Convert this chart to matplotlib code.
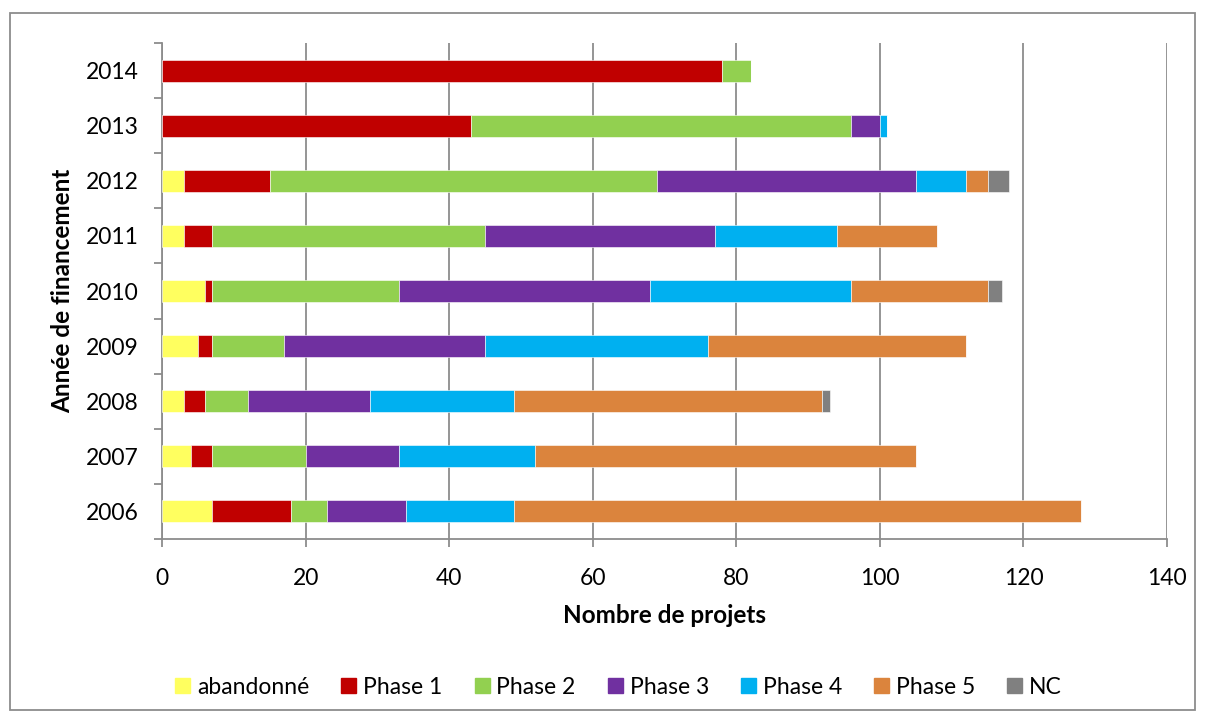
import matplotlib
matplotlib.use("Agg")
import matplotlib.pyplot as plt
from matplotlib.lines import Line2D
from matplotlib.patches import Rectangle
import numpy as np

plt.rcParams['font.family'] = ['Lato', 'DejaVu Sans']

years = ["2006", "2007", "2008", "2009", "2010", "2011", "2012", "2013", "2014"]
series_names = ["abandonné", "Phase 1", "Phase 2", "Phase 3", "Phase 4", "Phase 5", "NC"]
abandonne = [7, 4, 3, 5, 6, 3, 3, 0, 0]
phase1 = [11, 3, 3, 2, 1, 4, 12, 43, 78]
phase2 = [5, 13, 6, 10, 26, 38, 54, 53, 4]
phase3 = [11, 13, 17, 28, 35, 32, 36, 4, 0]
phase4 = [15, 19, 20, 31, 28, 17, 7, 1, 0]
phase5 = [79, 53, 43, 36, 19, 14, 3, 0, 0]
nc = [0, 0, 1, 0, 2, 0, 3, 0, 0]
colors = ["#FFFF5F", "#C00000", "#92D050", "#7030A0", "#00B0F0", "#DB843D", "#808080"]
x_ticks = [0, 20, 40, 60, 80, 100, 120, 140]

series = [abandonne, phase1, phase2, phase3, phase4, phase5, nc]

FS = 16.5
LFS = 17.5

fig = plt.figure(figsize=(12.05, 7.22), dpi=100)
ax = fig.add_axes([162 / 1205, 1 - 539 / 722, (1167 - 162) / 1205, (539 - 43) / 722])

ypos = np.arange(len(years))
left = np.zeros(len(years))
for vals, col, name in zip(series, colors, series_names):
    ax.barh(ypos, vals, left=left, height=0.4, color=col, label=name,
            edgecolor='white', linewidth=0.4, zorder=3)
    left += np.array(vals)

ax.set_xlim(0, 140)
ax.set_ylim(-0.5, len(years) - 0.5)
ax.set_xticks(x_ticks)
ax.set_xticklabels([str(v) for v in x_ticks])
ax.xaxis.grid(True, color='#8C8C8C', linewidth=1.3, zorder=0)
ax.set_axisbelow(True)

# Category ticks at boundaries, labels centred on bars
ax.set_yticks(np.arange(-0.5, len(years), 1.0))
ax.set_yticklabels([])
ax.set_yticks(ypos, minor=True)
ax.set_yticklabels(years, minor=True)
ax.tick_params(axis='y', which='minor', length=0, pad=17, labelsize=FS)
ax.tick_params(axis='y', which='major', length=6, width=1.3, color='#8C8C8C', direction='out')
ax.tick_params(axis='x', length=6, width=1.3, color='#8C8C8C', direction='out', labelsize=FS, pad=15)

for s in ['top', 'right']:
    ax.spines[s].set_visible(False)
for s in ['left', 'bottom']:
    ax.spines[s].set_color('#8C8C8C')
    ax.spines[s].set_linewidth(1.3)

ax.set_xlabel("Nombre de projets", fontsize=LFS, fontweight='bold', labelpad=11)
ax.set_ylabel("Année de financement", fontsize=LFS, fontweight='bold', labelpad=8)

handles = [Line2D([], [], marker='s', linestyle='none', markersize=10.8,
                  markerfacecolor=c, markeredgecolor=c) for c in colors]
fig.legend(handles, series_names, loc='center', bbox_to_anchor=(618 / 1205, 1 - 687 / 722),
           ncol=7, frameon=False, fontsize=FS, handletextpad=0.3,
           columnspacing=1.35, handlelength=0.7)

fig.patches.append(Rectangle((10 / 1205, 1 - 710 / 722), (1195 - 10) / 1205, (710 - 13) / 722,
                             transform=fig.transFigure, fill=False,
                             edgecolor='#8C8C8C', linewidth=1.3))

fig.savefig("out.png", dpi=100)
